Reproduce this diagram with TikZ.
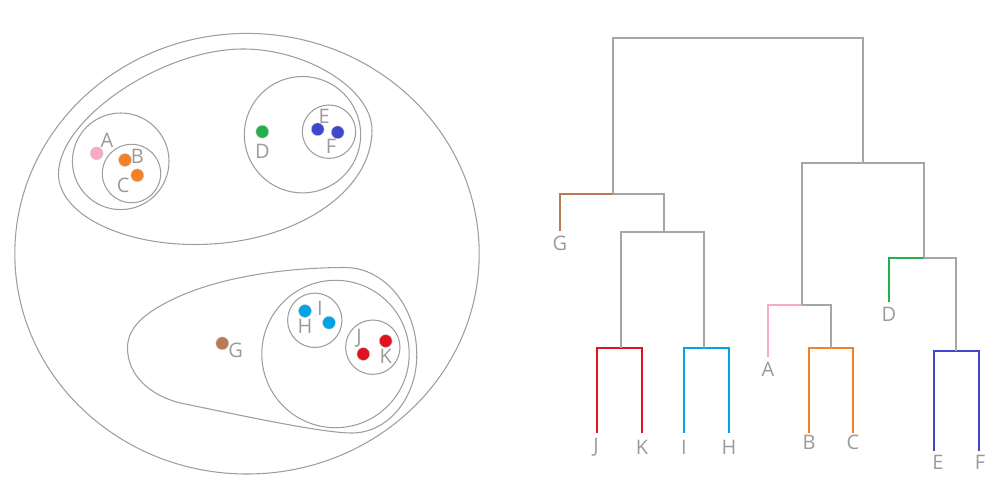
\documentclass[tikz,border=0pt]{standalone}
\usepackage{fontspec}
\setmainfont{Open Sans}
\definecolor{lngray}{HTML}{A6A6A6}
\definecolor{cgray}{HTML}{9E9E9E}
\definecolor{txtgray}{HTML}{9A9A9A}
\definecolor{cpink}{HTML}{F9A8C8}
\definecolor{corange}{HTML}{F58025}
\definecolor{cgreen}{HTML}{22B04B}
\definecolor{cblue}{HTML}{3F48CC}
\definecolor{ccyan}{HTML}{00A2E8}
\definecolor{cred}{HTML}{E0141E}
\definecolor{cbrown}{HTML}{B97A57}
\begin{document}
\begin{tikzpicture}[x=0.75pt,y=-0.75pt,
  ring/.style={draw=cgray,line width=0.8pt},
  dot/.style={circle,inner sep=0pt,minimum size=9.6pt,draw=black!22,line width=0.3pt},
  lbl/.style={inner sep=0pt,text=txtgray,font=\fontsize{15}{18}\selectfont},
  den/.style={line width=1.8pt,line cap=butt,line join=miter,draw=lngray}]
\useasboundingbox (0,0) rectangle (1000,500);
% ---------- left: nested clusters ----------
\draw[ring] (247,253.7) ellipse [x radius=232.2, y radius=220.3];
% upper cluster outline
\draw[ring] (58.5,174) .. controls (58.5,119) and (162,49) .. (243,49)
  .. controls (307.5,49) and (372,89.5) .. (372,130)
  .. controls (372,193.2) and (292.7,244.5) .. (195,244.5)
  .. controls (119.7,244.5) and (58.5,213.4) .. cycle;
\draw[ring] (120.7,161.3) circle [radius=48.3];
\draw[ring] (131.5,173.5) circle [radius=29.2];
\draw[ring] (302.5,134.7) circle [radius=58.2];
\draw[ring] (329,131.7) circle [radius=26.7];
% lower cluster outline
\draw[ring] (127.5,348) .. controls (127.5,326) and (147.4,312.8) .. (165,303.3)
  .. controls (217.8,274.7) and (295,267.5) .. (345,267.5)
  .. controls (384.6,267.5) and (416.8,306.7) .. (416.8,355)
  .. controls (416.8,398) and (387.8,433) .. (352,433)
  .. controls (320,433) and (230,413) .. (181.7,403.3)
  .. controls (150,396) and (127.5,375) .. cycle;
\draw[ring] (335.5,354) circle [radius=73.7];
\draw[ring] (314.8,320.3) circle [radius=27.2];
\draw[ring] (372.8,347.2) circle [radius=27.2];
% points
\node[dot,fill=cpink]   (pA) at (96.7,153.3) {};
\node[dot,fill=corange] (pB) at (125,160) {};
\node[dot,fill=corange] (pC) at (137.3,175.3) {};
\node[dot,fill=cgreen]  (pD) at (262.3,131.7) {};
\node[dot,fill=cblue]   (pE) at (317.7,129.3) {};
\node[dot,fill=cblue]   (pF) at (337.7,132.3) {};
\node[dot,fill=cbrown]  (pG) at (222.3,343.3) {};
\node[dot,fill=ccyan]   (pH) at (305,311) {};
\node[dot,fill=ccyan]   (pI) at (329,322.7) {};
\node[dot,fill=cred]    (pJ) at (363.3,354) {};
\node[dot,fill=cred]    (pK) at (385.7,341) {};
\node[lbl] (tA) at (107,140) {A};
\node[lbl] (tB) at (137.3,156.7) {B};
\node[lbl] (tC) at (123.3,185.7) {C};
\node[lbl] (tD) at (262.3,151) {D};
\node[lbl] (tE) at (324.3,116.7) {E};
\node[lbl] (tF) at (331,146) {F};
\node[lbl] (tG) at (235.7,350) {G};
\node[lbl] (tH) at (305,326.7) {H};
\node[lbl] (tI) at (320,308.3) {I};
\node[lbl] (tJ) at (359,338.3) {J};
\node[lbl] (tK) at (385.7,356.7) {K};
% ---------- right: dendrogram ----------
\coordinate (lJ) at (597,433);
\coordinate (lK) at (642,433);
\coordinate (lI) at (684,433);
\coordinate (lH) at (729,433);
\coordinate (lB) at (809,433);
\coordinate (lC) at (853,433);
\coordinate (lE) at (934,451);
\coordinate (lF) at (979,451);
\coordinate (lA) at (768,357);
\coordinate (lD) at (889,302);
\coordinate (lG) at (560,231);
\coordinate (JK) at (621,348);
\coordinate (IH) at (704,348);
\coordinate (JKIH) at (664,232);
\coordinate (GJKIH) at (613,194);
\coordinate (BC) at (831,348);
\coordinate (ABC) at (802,305);
\coordinate (EF) at (956,351);
\coordinate (DEF) at (924,258);
\coordinate (ABCDEF) at (863,163);
\coordinate (root) at (738,38);
\draw[den,draw=cred] (lJ) |- (JK) -| (lK);
\draw[den,draw=ccyan] (lI) |- (IH) -| (lH);
\draw[den] (JK) |- (JKIH) -| (IH);
\draw[den,draw=cbrown] (lG) |- (GJKIH);
\draw[den] (GJKIH) -| (JKIH);
\draw[den,draw=corange] (lB) |- (BC) -| (lC);
\draw[den,draw=cpink] (lA) |- (ABC);
\draw[den] (ABC) -| (BC);
\draw[den,draw=cblue] (lE) |- (EF) -| (lF);
\draw[den,draw=cgreen] (lD) |- (DEF);
\draw[den] (DEF) -| (EF);
\draw[den] (ABC) |- (ABCDEF) -| (DEF);
\draw[den] (GJKIH) |- (root) -| (ABCDEF);
\node[lbl] (dJ) at (596,447) {J};
\node[lbl] (dK) at (642,447) {K};
\node[lbl] (dI) at (684,447) {I};
\node[lbl] (dH) at (729,447) {H};
\node[lbl] (dB) at (809,442) {B};
\node[lbl] (dC) at (853,442) {C};
\node[lbl] (dE) at (938,462) {E};
\node[lbl] (dF) at (980,462) {F};
\node[lbl] (dA) at (768,369) {A};
\node[lbl] (dD) at (889,314) {D};
\node[lbl] (dG) at (560,243) {G};
\end{tikzpicture}
\end{document}
